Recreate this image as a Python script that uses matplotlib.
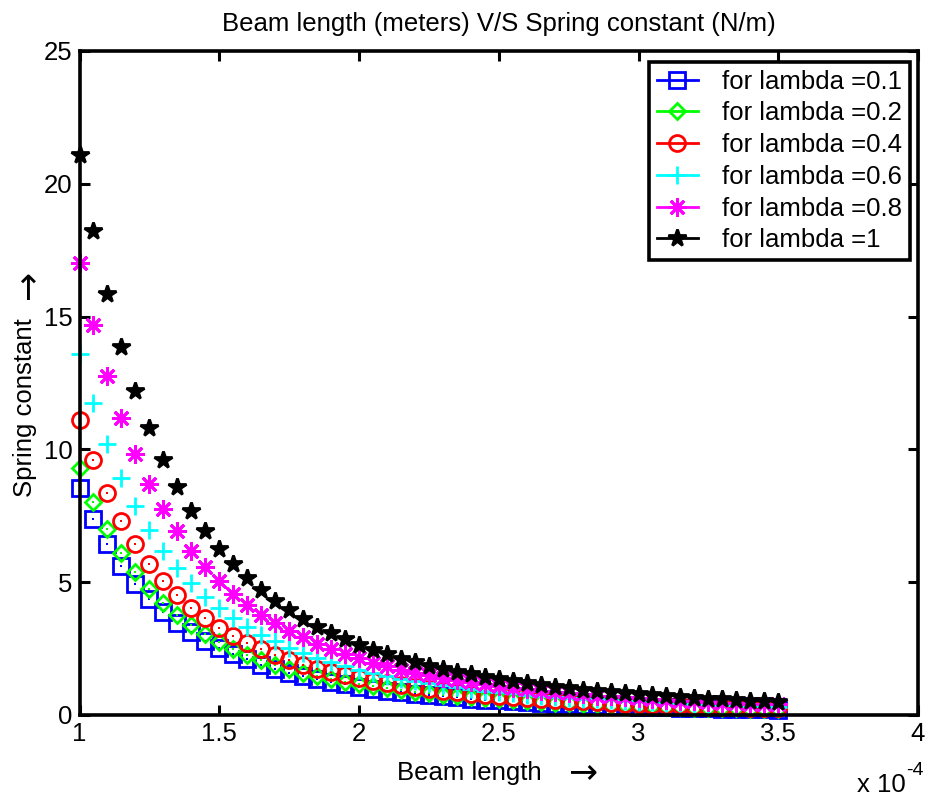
import numpy as np
import matplotlib
matplotlib.use("Agg")
import matplotlib.pyplot as plt
from matplotlib.lines import Line2D

plt.rcParams["font.family"] = ["Liberation Sans", "DejaVu Sans"]

# beam length in units of 1e-4 m
beam_length = np.round(np.arange(1.0, 3.5001, 0.05), 2)

k_lambda_01 = [8.55, 7.39, 6.42, 5.62, 4.95, 4.38, 3.89, 3.47, 3.12, 2.80,
               2.53, 2.30, 2.09, 1.90, 1.74, 1.60, 1.47, 1.35, 1.25, 1.15,
               1.07, 0.99, 0.92, 0.86, 0.80, 0.75, 0.70, 0.66, 0.62, 0.58,
               0.55, 0.52, 0.49, 0.46, 0.43, 0.41, 0.39, 0.37, 0.35, 0.33,
               0.32, 0.30, 0.29, 0.27, 0.26, 0.25, 0.24, 0.23, 0.22, 0.21, 0.20]
k_lambda_02 = [9.30, 8.03, 6.99, 6.11, 5.38, 4.76, 4.23, 3.78, 3.39, 3.05,
               2.76, 2.50, 2.27, 2.07, 1.89, 1.74, 1.59, 1.47, 1.36, 1.25,
               1.16, 1.08, 1.00, 0.94, 0.87, 0.82, 0.76, 0.72, 0.67, 0.63,
               0.60, 0.56, 0.53, 0.50, 0.47, 0.45, 0.42, 0.40, 0.38, 0.36,
               0.34, 0.33, 0.31, 0.30, 0.28, 0.27, 0.26, 0.25, 0.24, 0.23, 0.22]
k_lambda_04 = [11.10, 9.59, 8.34, 7.30, 6.42, 5.68, 5.05, 4.51, 4.04, 3.64,
               3.29, 2.98, 2.71, 2.47, 2.26, 2.07, 1.90, 1.75, 1.62, 1.50,
               1.39, 1.29, 1.20, 1.12, 1.04, 0.97, 0.91, 0.86, 0.80, 0.75,
               0.71, 0.67, 0.63, 0.60, 0.56, 0.53, 0.51, 0.48, 0.46, 0.43,
               0.41, 0.39, 0.37, 0.36, 0.34, 0.32, 0.31, 0.30, 0.28, 0.27, 0.26]
k_lambda_06 = [13.60, 11.75, 10.22, 8.94, 7.87, 6.96, 6.19, 5.53, 4.96, 4.46,
               4.03, 3.65, 3.32, 3.03, 2.77, 2.54, 2.33, 2.15, 1.98, 1.83,
               1.70, 1.58, 1.47, 1.37, 1.28, 1.19, 1.12, 1.05, 0.98, 0.92,
               0.87, 0.82, 0.77, 0.73, 0.69, 0.65, 0.62, 0.59, 0.56, 0.53,
               0.50, 0.48, 0.46, 0.44, 0.41, 0.40, 0.38, 0.36, 0.35, 0.33, 0.32]
k_lambda_08 = [17.00, 14.68, 12.77, 11.18, 9.84, 8.70, 7.74, 6.91, 6.19, 5.58,
               5.04, 4.56, 4.15, 3.78, 3.46, 3.17, 2.92, 2.68, 2.48, 2.29,
               2.13, 1.97, 1.84, 1.71, 1.60, 1.49, 1.40, 1.31, 1.23, 1.16,
               1.09, 1.03, 0.97, 0.91, 0.86, 0.82, 0.78, 0.73, 0.70, 0.66,
               0.63, 0.60, 0.57, 0.54, 0.52, 0.49, 0.47, 0.45, 0.43, 0.41, 0.40]
k_lambda_10 = [21.10, 18.23, 15.85, 13.87, 12.21, 10.80, 9.60, 8.58, 7.69, 6.92,
               6.25, 5.67, 5.15, 4.70, 4.29, 3.94, 3.62, 3.33, 3.08, 2.85,
               2.64, 2.45, 2.28, 2.12, 1.98, 1.85, 1.73, 1.63, 1.53, 1.43,
               1.35, 1.27, 1.20, 1.13, 1.07, 1.01, 0.96, 0.91, 0.87, 0.82,
               0.78, 0.74, 0.71, 0.68, 0.64, 0.61, 0.59, 0.56, 0.54, 0.51, 0.49]

labels = ["for lambda =0.1", "for lambda =0.2", "for lambda =0.4",
          "for lambda =0.6", "for lambda =0.8", "for lambda =1"]
series = [k_lambda_01, k_lambda_02, k_lambda_04, k_lambda_06, k_lambda_08, k_lambda_10]

# (color, marker, size, face, centre dot)
styles = [
    ("#0000ff", "s", 11.3, "none", True),
    ("#00ff00", "D", 8.2, "none", True),
    ("#ff0000", "o", 11.5, "none", True),
    ("#00ffff", "+", 13.5, "none", False),
    ("#ff00ff", (8, 2, 0), 13.5, "none", False),
    ("#000000", "*", 13.0, "#000000", False),
]

FS = 18.5

fig = plt.figure(figsize=(9.3, 7.98), dpi=100)
ax = fig.add_axes([79.5 / 930, 1 - 715 / 798, (918 - 79.5) / 930, (715 - 51) / 798])

handles = []
for vals, (col, mk, ms, fc, dot) in zip(series, styles):
    ax.plot(beam_length, vals, linestyle="none", marker=mk, markersize=ms,
            markeredgecolor=col, markerfacecolor=fc, markeredgewidth=2.0,
            clip_on=False, zorder=2)
    if dot:
        ax.plot(beam_length, vals, linestyle="none", marker="s", markersize=2.0,
                color=col, markeredgewidth=0, clip_on=False, zorder=2)
    handles.append(Line2D([], [], color=col, linewidth=2.0, marker=mk, markersize=ms,
                          markeredgecolor=col, markerfacecolor=fc, markeredgewidth=2.0))

ax.set_xlim(1, 4)
ax.set_ylim(0, 25)
ax.set_xticks([1, 1.5, 2, 2.5, 3, 3.5, 4])
ax.set_xticklabels(["1", "1.5", "2", "2.5", "3", "3.5", "4"])
ax.set_yticks([0, 5, 10, 15, 20, 25])

for sp in ax.spines.values():
    sp.set_linewidth(2.6)
ax.tick_params(direction="in", length=7.5, width=2.2, top=True, right=True,
               labelsize=FS, colors="black")
ax.tick_params(axis="x", pad=5)
ax.tick_params(axis="y", pad=5)

# axis labels with their arrows
fig.text(469 / 930, 1 - 780 / 798, "Beam length", ha="center", va="baseline", fontsize=FS)
fig.text(583 / 930, 1 - 772 / 798, "\u2192", ha="center", va="center", fontsize=25,
         family="DejaVu Sans")
fig.text(25 / 930, 1 - 408 / 798, "Spring constant", ha="center", va="center",
         rotation=90, fontsize=FS)
fig.text(27 / 930, 1 - 285 / 798, "\u2192", ha="center", va="center", rotation=90,
         fontsize=25, family="DejaVu Sans")

fig.text(499 / 930, 1 - 31 / 798, "Beam length (meters) V/S Spring constant (N/m)",
         ha="center", va="baseline", fontsize=FS)
fig.text(857 / 930, 1 - 792 / 798, "x 10", ha="left", va="baseline", fontsize=FS)
fig.text(906 / 930, 1 - 775 / 798, "-4", ha="left", va="baseline", fontsize=14)

leg = ax.legend(handles, labels, loc="upper right",
                bbox_to_anchor=(910 / 930, 1 - 62 / 798), bbox_transform=fig.transFigure,
                fontsize=FS, frameon=True, fancybox=False, framealpha=1,
                edgecolor="black", borderaxespad=0, handlelength=1.6,
                handletextpad=0.95, labelspacing=0.3, borderpad=0.3)
leg.get_frame().set_linewidth(2.6)
leg.set_zorder(5)

fig.savefig("out.png", dpi=100)
